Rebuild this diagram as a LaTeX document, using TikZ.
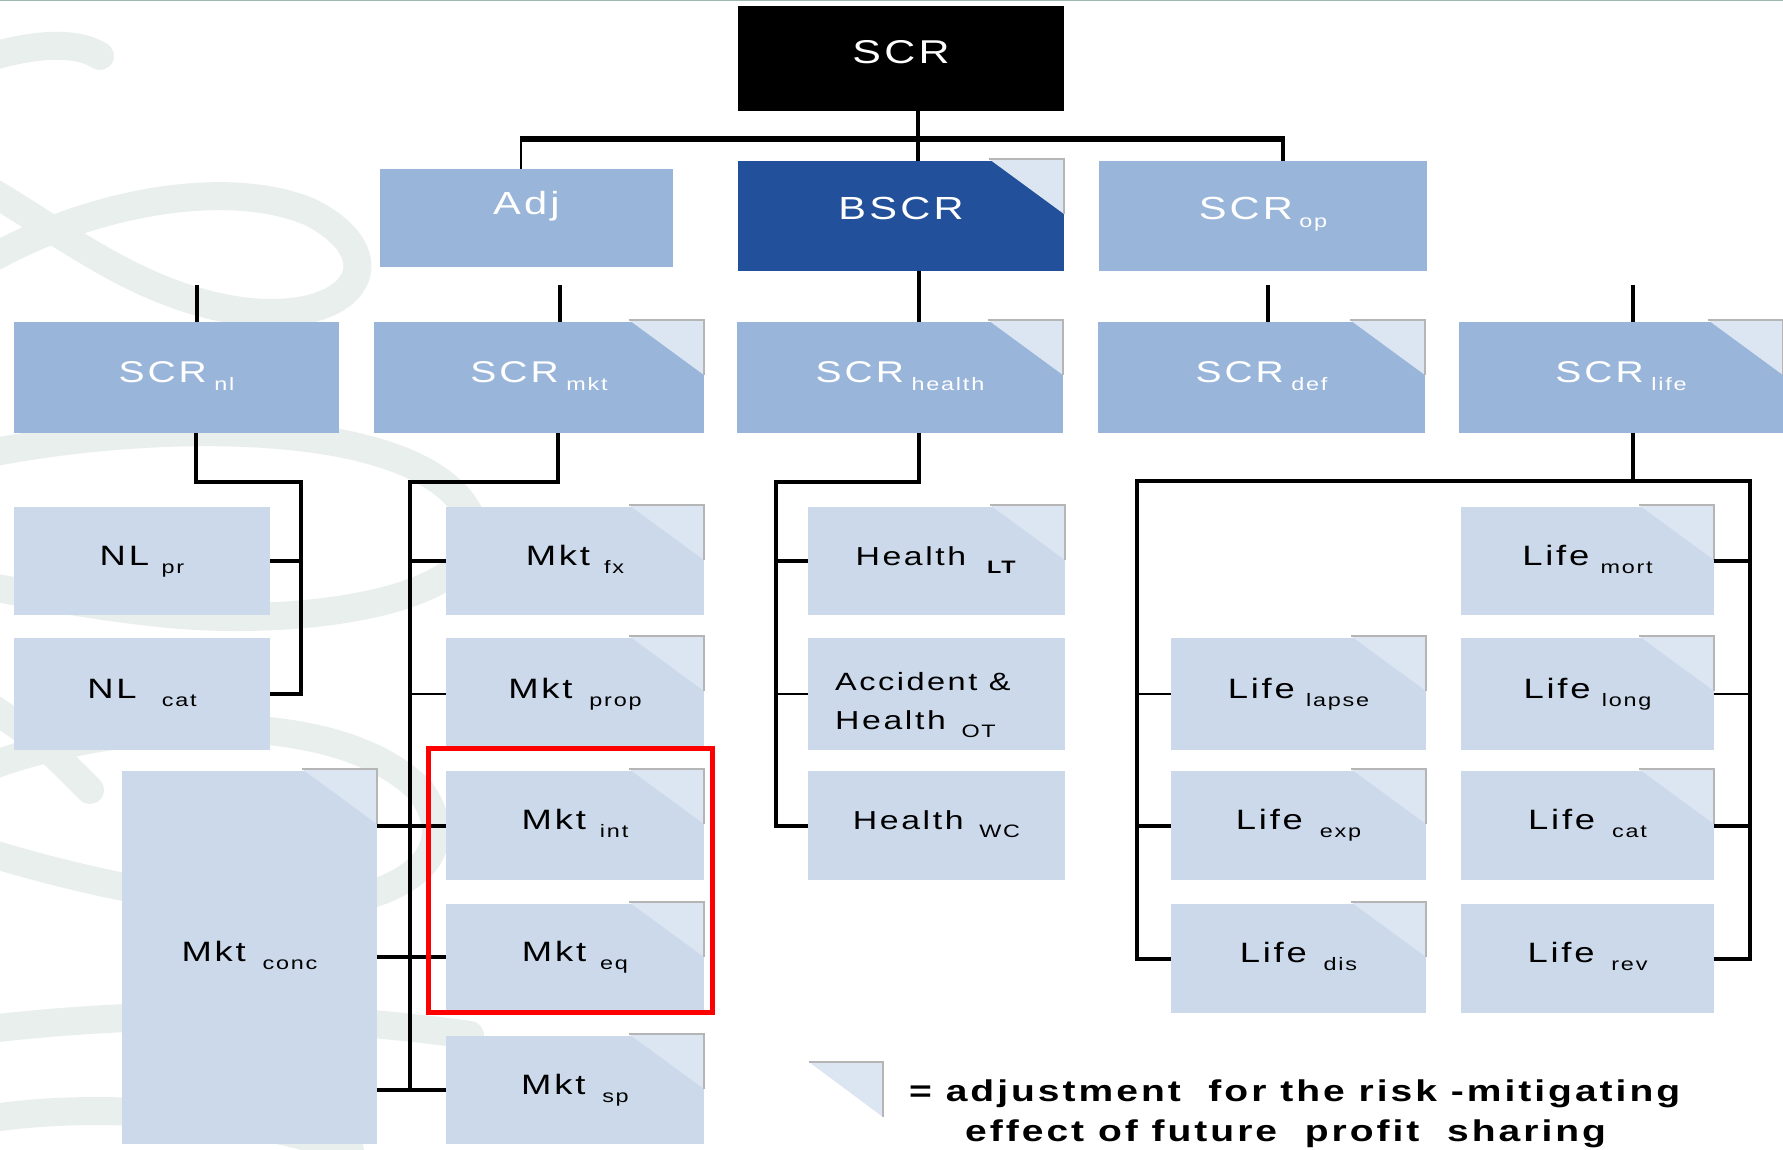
\documentclass[tikz,border=0pt]{standalone}
\usepackage{fontspec}
\setmainfont{Liberation Sans}
\newfontfamily\bxfont{Liberation Sans}[FakeStretch=1.3,LetterSpace=10]
\newfontfamily\legfont{Liberation Sans}[FakeStretch=1.3,LetterSpace=10]
\usetikzlibrary{calc}
\definecolor{midblue}{HTML}{99B6DA}
\definecolor{darkblue}{HTML}{22509A}
\definecolor{leafblue}{HTML}{CBD9EB}
\definecolor{cornfill}{HTML}{DCE6F2}
\definecolor{cornedge}{HTML}{B5B5B5}
\definecolor{wmcol}{HTML}{E8EFEC}
\definecolor{topline}{HTML}{9DBAB2}
\newcommand\sbx[3][0.25em]{#2\hspace{#1}\raisebox{-8pt}{\fontsize{18}{18}\selectfont #3}}
\newcommand\mkbox[7]{\node[#1, minimum width={#5-#3}, minimum height={#6-#4}] (#2) at ({(#3+#5)/2},{(#4+#6)/2}) {#7};}
\newcommand\corner[1]{%
  \fill[cornfill] ([xshift=-75pt,yshift=2pt]#1.north east) -- ([yshift=2pt]#1.north east) -- ([yshift=-53pt]#1.north east) -- cycle;
  \draw[cornedge, line width=2.5pt] ([xshift=-75pt,yshift=2pt]#1.north east) -- ([yshift=2pt]#1.north east) -- ([yshift=-53pt]#1.north east);}
\tikzset{
  base/.style={inner sep=0pt, outer sep=0pt, draw=none},
  topbox/.style={base, fill=black, text=white, font=\bxfont\fontsize{33}{40}\selectfont, text height=24pt, text depth=13pt},
  l1box/.style={base, fill=midblue, text=white, font=\bxfont\fontsize{32}{38}\selectfont, text height=23pt, text depth=15pt},
  l2box/.style={base, fill=midblue, text=white, font=\bxfont\fontsize{30}{36}\selectfont, text height=22pt, text depth=13pt},
  leaf/.style={base, fill=leafblue, text=black, font=\bxfont\fontsize{28}{34}\selectfont, text height=21pt, text depth=13pt},
  hleaf/.style={leaf, font=\bxfont\fontsize{26}{30}\selectfont},
  conn/.style={line width=4pt, black},
  thinconn/.style={line width=2pt, black},
  legtext/.style={anchor=base west, inner sep=0pt, font=\legfont\bfseries\fontsize{30}{30}\selectfont}
}
\begin{document}
\begin{tikzpicture}[x=1pt,y=-1pt]
\useasboundingbox (0,0) rectangle (1783,1150);
\fill[white] (0,0) rectangle (1783,1150);
% watermark
\begin{scope}[draw=wmcol, line width=28pt, line cap=round]
\draw (-20,60) .. controls (30,44) and (75,40) .. (100,56);
\draw (-20,185) .. controls (60,230) and (140,300) .. (250,312) .. controls (360,322) and (395,255) .. (310,212) .. controls (230,178) and (90,200) .. (-20,265);
\draw (-20,455) .. controls (150,420) and (420,415) .. (470,515) .. controls (505,600) and (300,630) .. (150,612) .. controls (80,604) and (20,592) .. (-20,585);
\draw (-20,700) .. controls (40,740) .. (90,790);
\draw (-20,770) .. controls (100,722) and (330,700) .. (420,790) .. controls (475,865) and (380,915) .. (250,905) .. controls (150,897) and (50,872) .. (-20,850);
\draw (-20,1030) .. controls (150,1010) and (300,1012) .. (470,1035);
\draw (-20,1120) .. controls (100,1100) and (250,1115) .. (350,1150);
\end{scope}
\draw[topline, line width=3pt] (0,0) -- (1783,0);
% boxes
\mkbox{topbox}{SCR}{738}{6}{1064}{111}{SCR}
\mkbox{l1box,text height=24pt,text depth=30pt}{Adj}{380}{169}{673}{267}{Adj}
\mkbox{l1box,fill=darkblue}{BSCR}{738}{161}{1064}{271}{BSCR}
\mkbox{l1box}{SCRop}{1099}{161}{1427}{271}{\sbx[0.2em]{SCR}{op}}
\mkbox{l2box}{SCRnl}{14}{322}{339}{433}{\sbx{SCR}{nl}}
\mkbox{l2box}{SCRmkt}{374}{322}{704}{433}{\sbx{SCR}{mkt}}
\mkbox{l2box}{SCRhealth}{737}{322}{1063}{433}{\sbx{SCR}{health}}
\mkbox{l2box}{SCRdef}{1098}{322}{1425}{433}{\sbx{SCR}{def}}
\mkbox{l2box}{SCRlife}{1459}{322}{1783}{433}{\sbx{SCR}{life}}
\mkbox{leaf}{NLpr}{14}{507}{270}{615}{\sbx[0.45em]{NL}{pr}}
\mkbox{leaf}{NLcat}{14}{638}{270}{750}{\sbx[0.9em]{NL}{cat}}
\mkbox{leaf}{Mktconc}{122}{771}{377}{1144}{\sbx[0.6em]{Mkt}{conc}}
\mkbox{leaf}{Mktfx}{446}{507}{704}{615}{\sbx[0.5em]{Mkt}{fx}}
\mkbox{leaf}{Mktprop}{446}{638}{704}{750}{\sbx[0.6em]{Mkt}{prop}}
\mkbox{leaf}{Mktint}{446}{771}{704}{880}{\sbx[0.5em]{Mkt}{int}}
\mkbox{leaf}{Mkteq}{446}{904}{704}{1010}{\sbx[0.5em]{Mkt}{eq}}
\mkbox{leaf}{Mktsp}{446}{1036}{704}{1144}{\sbx[0.6em]{Mkt}{sp}}
\mkbox{hleaf}{HealthLT}{808}{507}{1065}{615}{\sbx[0.8em]{Health}{\textbf{LT}}}
\mkbox{leaf}{AccOT}{808}{638}{1065}{750}{}
\mkbox{hleaf}{HealthWC}{808}{771}{1065}{880}{\sbx[0.6em]{Health}{WC}}
\mkbox{leaf}{Lifemort}{1461}{507}{1714}{615}{\sbx[0.4em]{Life}{mort}}
\mkbox{leaf}{Lifelapse}{1171}{638}{1426}{750}{\sbx[0.4em]{Life}{lapse}}
\mkbox{leaf}{Lifelong}{1461}{638}{1714}{750}{\sbx[0.4em]{Life}{long}}
\mkbox{leaf}{Lifeexp}{1171}{771}{1426}{880}{\sbx[0.6em]{Life}{exp}}
\mkbox{leaf}{Lifecat}{1461}{771}{1714}{880}{\sbx[0.6em]{Life}{cat}}
\mkbox{leaf}{Lifedis}{1171}{904}{1426}{1013}{\sbx[0.6em]{Life}{dis}}
\mkbox{leaf}{Liferev}{1461}{904}{1714}{1013}{\sbx[0.6em]{Life}{rev}}
\node[anchor=base west, inner sep=0pt, font=\bxfont\fontsize{25}{25}\selectfont] (accA) at (835,690) {Accident \&};
\node[anchor=base west, inner sep=0pt, font=\bxfont\fontsize{26}{26}\selectfont] (accB) at (835,729) {\sbx[0.6em]{Health}{OT}};
% corners
\foreach \n in {BSCR,SCRmkt,SCRhealth,SCRdef,SCRlife,Mktconc,Mktfx,Mktprop,Mktint,Mkteq,Mktsp,HealthLT,Lifemort,Lifelapse,Lifelong,Lifeexp,Lifecat,Lifedis} {\corner{\n}}
% top connectors
\coordinate (cS) at (918,0);
\draw[conn] (SCR.south -| cS) -- (BSCR.north -| cS);
\coordinate (busL) at (521,139);
\coordinate (busR) at (1283,139);
\draw[line width=6pt] (busL) -- (busR);
\draw[line width=2.5pt] ([yshift=3pt]busL) -- (busL |- Adj.north);
\draw[conn] ([yshift=3pt]busR) -- (busR |- SCRop.north);
\coordinate (tSCRnl) at (197,285);
\coordinate (tSCRmkt) at (560,285);
\coordinate (tSCRdef) at (1268,285);
\coordinate (tSCRlife) at (1633,285);
\foreach \n in {SCRnl,SCRmkt,SCRdef,SCRlife} {\draw[conn] (t\n) -- (t\n |- \n.north);}
\coordinate (cH) at (919,0);
\draw[conn] (BSCR.south -| cH) -- (SCRhealth.north -| cH);
% NL
\coordinate (nlT) at (196,482);
\coordinate (nlJ) at (301,482);
\draw[conn] (SCRnl.south -| nlT) -- (nlT) -- (nlJ) -- (nlJ |- NLcat.east) -- (NLcat.east);
\draw[conn] (NLpr.east) -- (NLpr.east -| nlJ);
% Mkt
\coordinate (mkT) at (558,482);
\coordinate (mkJ) at (410,482);
\draw[conn] (SCRmkt.south -| mkT) -- (mkT) -- (mkJ) -- (mkJ |- Mktsp.west);
\draw[conn] (Mktfx.west -| mkJ) -- (Mktfx.west);
\draw[thinconn] (Mktprop.west -| mkJ) -- (Mktprop.west);
\foreach \n in {Mktint,Mkteq,Mktsp} {\draw[conn] (Mktconc.east |- \n.west) -- (\n.west);}
% Health
\coordinate (hJ) at (776,482);
\draw[conn] (SCRhealth.south -| cH) -- (cH |- hJ) -- (hJ) -- (hJ |- HealthWC.west) -- (HealthWC.west);
\draw[conn] (HealthLT.west -| hJ) -- (HealthLT.west);
\draw[thinconn] (AccOT.west -| hJ) -- (AccOT.west);
% Life
\coordinate (lL) at (1137,481);
\coordinate (lR) at (1750,481);
\coordinate (lT) at (1633,481);
\draw[conn] (SCRlife.south -| lT) -- (lT);
\draw[conn] (Lifedis.west) -- (lL |- Lifedis.west) -- (lL) -- (lR) -- (lR |- Liferev.east) -- (Liferev.east);
\draw[thinconn] (Lifelapse.west -| lL) -- (Lifelapse.west);
\draw[conn] (Lifeexp.west -| lL) -- (Lifeexp.west);
\draw[conn] (Lifemort.east) -- (Lifemort.east -| lR);
\draw[thinconn] (Lifelong.east) -- (Lifelong.east -| lR);
\draw[conn] (Lifecat.east) -- (Lifecat.east -| lR);
% highlight
\draw[red, line width=5pt] (428,748) rectangle (712,1012);
% legend
\fill[cornfill] (809,1062) -- (883,1062) -- (883,1117) -- cycle;
\draw[cornedge, line width=2.5pt] (809,1062) -- (883,1062) -- (883,1117);
\node[legtext] (leg1) at (909,1101) {= adjustment\ \ for the risk -mitigating};
\node[legtext] (leg2) at (965,1141) {effect of future\ \ profit\ \ sharing};
\end{tikzpicture}
\end{document}
